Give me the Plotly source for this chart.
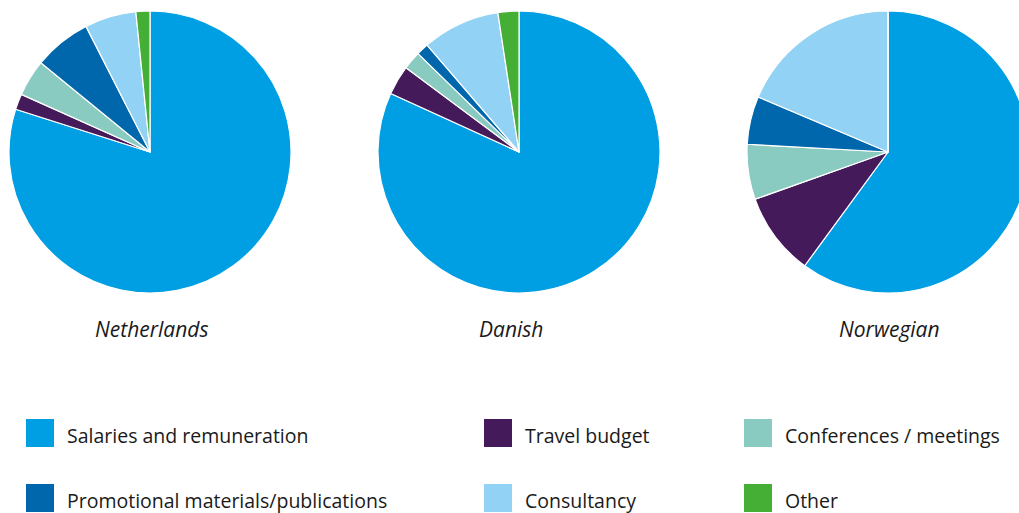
import plotly.graph_objects as go

categories = ["Salaries and remuneration", "Travel budget", "Conferences / meetings",
              "Promotional materials/publications", "Consultancy", "Other"]
colors = ["#009FE3", "#451A5B", "#8ACBC1", "#0067AD", "#92D2F5", "#45AE34"]

netherlands = [79.9, 1.8, 4.2, 6.6, 5.9, 1.6]
danish = [81.8, 3.4, 2.1, 1.4, 8.9, 2.4]
norwegian = [60.0, 9.5, 6.3, 5.5, 18.6, 0.0]

pie_names = ["Netherlands", "Danish", "Norwegian"]
pie_values = [netherlands, danish, norwegian]

# figure geometry: figure is wider than the window so the right pie is cut off
FW, FH = 1040, 513

centers_x = [150, 519, 888]
title_x = [151, 511, 889]
center_y = 152
radius = 141

def px(x):
    return x / FW

def py(y):
    return 1 - y / FH

fig = go.Figure()
for name, vals, cx in zip(pie_names, pie_values, centers_x):
    fig.add_trace(go.Pie(
        labels=categories, values=vals, name=name,
        sort=False, direction="clockwise", rotation=0,
        marker=dict(colors=colors, line=dict(color="white", width=1.2)),
        textinfo="none", hoverinfo="label+percent",
        showlegend=False,
        domain=dict(x=[px(cx - radius), px(cx + radius)],
                    y=[py(center_y + radius), py(center_y - radius)]),
    ))

annotations = []
for name, tx in zip(pie_names, title_x):
    annotations.append(dict(
        x=px(tx), y=py(329), xref="paper", yref="paper",
        text=f"<i>{name}</i>", showarrow=False, xanchor="center", yanchor="middle",
        font=dict(family="Open Sans", size=21, color="#1a1a1a"),
    ))

# legend (3 columns x 2 rows)
leg_sq_x = [26, 484, 744]
leg_row_y = [433, 498]
sq = 28
gap = 11
shapes = []
for i, (cat, col) in enumerate(zip(categories, colors)):
    r, c = divmod(i, 3)
    x0 = leg_sq_x[c]
    y0 = leg_row_y[r] - sq / 2
    shapes.append(dict(type="rect", xref="paper", yref="paper",
                       x0=px(x0), x1=px(x0 + sq), y0=py(y0 + sq), y1=py(y0),
                       fillcolor=col, line=dict(width=0)))
    annotations.append(dict(
        x=px(x0 + sq + gap), y=py(leg_row_y[r] + 2), xref="paper", yref="paper",
        text=cat, showarrow=False, xanchor="left", yanchor="middle",
        font=dict(family="Open Sans", size=19.5, color="#1a1a1a"),
    ))

fig.update_layout(
    width=FW, height=FH, margin=dict(l=0, r=0, t=0, b=0),
    paper_bgcolor="white", plot_bgcolor="white",
    annotations=annotations, shapes=shapes,
)

fig.write_html(
    "out.html",
    config={"displayModeBar": False},
    post_script="document.body.style.margin='0';document.body.style.overflow='hidden';",
)
